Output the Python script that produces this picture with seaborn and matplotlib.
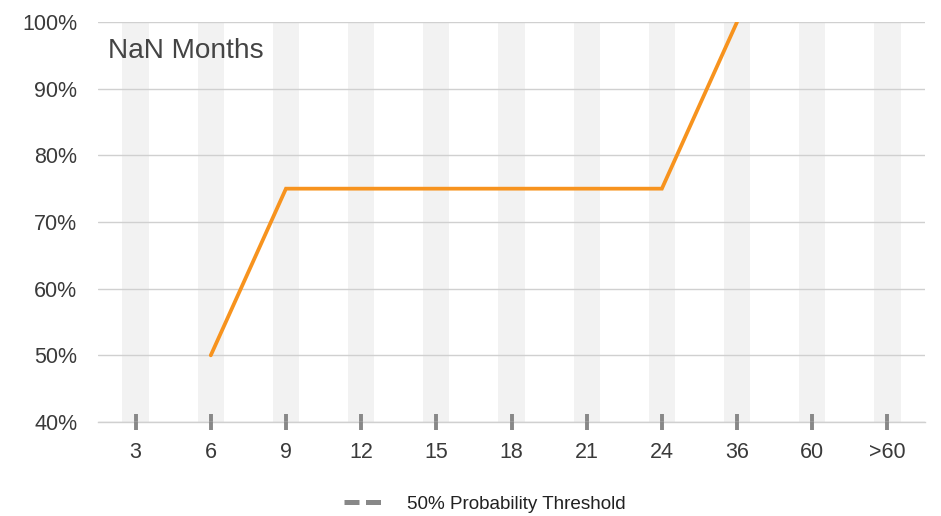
import numpy as np
import pandas as pd
import matplotlib
matplotlib.use("Agg")
import matplotlib.pyplot as plt
from matplotlib.lines import Line2D
from matplotlib.ticker import FuncFormatter
import seaborn as sns

# Data
months = ["3", "6", "9", "12", "15", "18", "21", "24", "36", "60", ">60"]
probability = [np.nan, 50, 75, 75, 75, 75, 75, 75, 100, np.nan, np.nan]
y_ticks = [40, 50, 60, 70, 80, 90, 100]
panel_title = "NaN Months"
threshold_label = "50% Probability Threshold"

sns.set_theme(style="white")
plt.rcParams["font.family"] = ["Liberation Sans", "DejaVu Sans"]

df = pd.DataFrame({"pos": range(len(months)), "month": months, "prob": probability})

fig = plt.figure(figsize=(9.41, 5.16), dpi=100)
ax = fig.add_axes([98 / 941, 1 - 422 / 516, (925 - 98) / 941, (422 - 22) / 516])

# light grey column bands behind each month
for p in df["pos"]:
    ax.axvspan(p - 0.175, p + 0.175, color="#f2f2f2", zorder=0, lw=0)

sns.lineplot(data=df.dropna(), x="pos", y="prob", color="#f7931e", linewidth=2.7,
             ax=ax, zorder=3, solid_joinstyle="miter")

ax.set_xlim(-0.5, len(months) - 0.5)
ax.set_ylim(40, 100)
ax.set_yticks(y_ticks)
ax.yaxis.set_major_formatter(FuncFormatter(lambda v, _: f"{int(v)}%"))
ax.set_xticks(df["pos"])
ax.set_xticklabels(months)
ax.set_xlabel("")
ax.set_ylabel("")

ax.grid(axis="y", color="#d0d0d0", linewidth=1, zorder=1)
ax.set_axisbelow(False)
for s in ["top", "right", "left"]:
    ax.spines[s].set_visible(False)
ax.spines["bottom"].set_color("#d0d0d0")
ax.spines["bottom"].set_linewidth(1)

ax.tick_params(axis="y", length=0, pad=15, labelsize=15.5, labelcolor="#3a3a3a")
ax.tick_params(axis="x", direction="inout", length=11, width=2.8, color="#888888",
               pad=9, labelsize=15.5, labelcolor="#3a3a3a")
ax.xaxis.set_tick_params(bottom=True)

ax.text(0.012, 0.96, panel_title, transform=ax.transAxes, fontsize=20.2,
        color="#444444", va="top", ha="left")

handle = Line2D([], [], color="#888888", linewidth=3.6, linestyle=(0, (3.0, 1.3)))
fig.legend([handle], [threshold_label], loc="center", frameon=False,
           bbox_to_anchor=(485 / 941, 1 - 504 / 516), fontsize=13.6,
           handlelength=2.05, handletextpad=1.3, labelcolor="#222222")

fig.savefig("out.png", dpi=100)
